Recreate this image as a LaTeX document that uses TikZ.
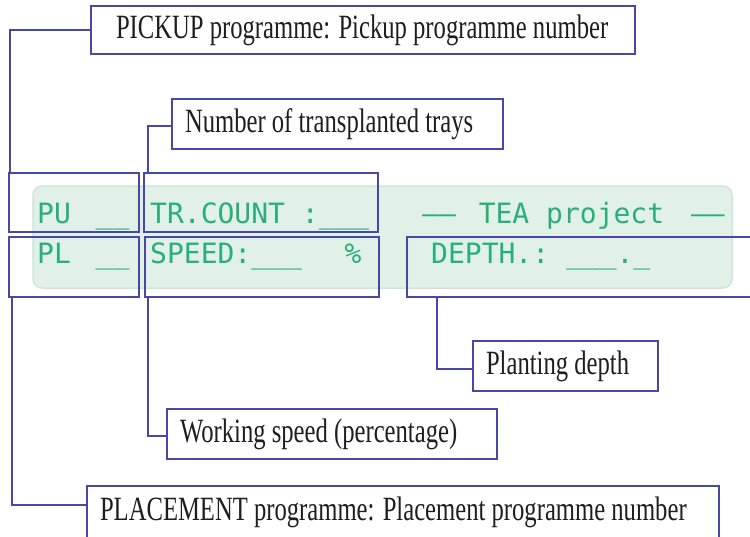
\documentclass[tikz,border=0pt]{standalone}
\usepackage{fontspec}
\setmainfont{Liberation Serif}
\newfontfamily\calloutfont[FakeStretch=0.725]{Liberation Serif}
\newfontfamily\screenfont{DejaVu Sans Mono}
\definecolor{frameblue}{RGB}{72,72,168}
\definecolor{screengreen}{RGB}{40,175,122}
\definecolor{panelfill}{RGB}{226,241,231}
\definecolor{panelline}{RGB}{205,231,215}
\definecolor{inkdark}{RGB}{30,30,30}
\begin{document}
\begin{tikzpicture}[x=1pt,y=-1pt,
  field/.style={draw=frameblue, line width=1.1pt, inner sep=0pt, outer sep=0pt, anchor=north west},
  callout/.style={draw=frameblue, line width=1.1pt, fill=white, anchor=north west,
    inner ysep=0pt, outer sep=0pt, text=inkdark,
    font=\calloutfont\fontsize{34}{36}\selectfont},
  screen/.style={anchor=base west, inner sep=0pt, text=screengreen,
    font=\screenfont\fontsize{28}{30}\selectfont},
  lead/.style={draw=frameblue, line width=1.1pt}]
\clip (0,0) rectangle (750,536);

% display panel
\draw[draw=panelline, fill=panelfill, line width=1.5pt, rounded corners=9pt]
  (33,186) rectangle (732,288);

% display contents
\node[screen] (pu-txt) at (37,223) {PU\ \kern8pt\_\_};
\node[screen] (tr-txt) at (150,223) {TR.COUNT\ :\_\_\_};
\node[screen] (tea-txt) at (422,223) {——\kern6pt\ TEA\ project\ \kern10pt——};
\node[screen] (pl-txt) at (37,263) {PL\ \kern8pt\_\_};
\node[screen] (sp-txt) at (150,263) {SPEED:\_\_\_\ \ \kern9pt\%};
\node[screen] (dp-txt) at (431,263) {DEPTH.:\ \_\_\_.\_};

% field frames
\node[field, minimum width=130pt, minimum height=59pt] (pu) at (9,173) {};
\node[field, minimum width=234pt, minimum height=59pt] (tr) at (144,173) {};
\node[field, minimum width=130pt, minimum height=60pt] (pl) at (9,237) {};
\node[field, minimum width=234pt, minimum height=60pt] (sp) at (145,237) {};
\node[field, minimum width=360pt, minimum height=60pt] (dp) at (407,237) {};

% callouts
\node[callout, minimum width=544pt, minimum height=48pt, inner xsep=25pt] (pickup) at (91,6)
  {\makebox[494pt][l]{PICKUP programme: Pickup programme number}};
\node[callout, minimum width=331pt, minimum height=50pt, inner xsep=13pt] (number) at (172,99)
  {\makebox[305pt][l]{Number of transplanted trays}};
\node[callout, minimum width=185pt, minimum height=50pt, inner xsep=13pt] (planting) at (473,341)
  {\makebox[159pt][l]{Planting depth}};
\node[callout, minimum width=330pt, minimum height=50pt, inner xsep=13pt] (working) at (167,409)
  {\makebox[304pt][l]{Working speed (percentage)}};
\node[callout, minimum width=632pt, minimum height=52pt, inner xsep=13pt] (placement) at (87,486)
  {\makebox[606pt][l]{PLACEMENT programme: Placement programme number}};

% leader lines
\draw[lead] (pickup.west) -| ([xshift=1pt]pu.north west);
\draw[lead] ([yshift=-2pt]number.west) -| ([xshift=4pt]tr.north west);
\draw[lead] ([xshift=3pt]sp.south west) |- ([yshift=-2pt]working.west);
\draw[lead] ([xshift=30pt]dp.south west) |- ([yshift=-3pt]planting.west);
\draw[lead] ([xshift=3pt]pl.south west) |- ([yshift=-19pt]placement.north west);
\end{tikzpicture}
\end{document}
